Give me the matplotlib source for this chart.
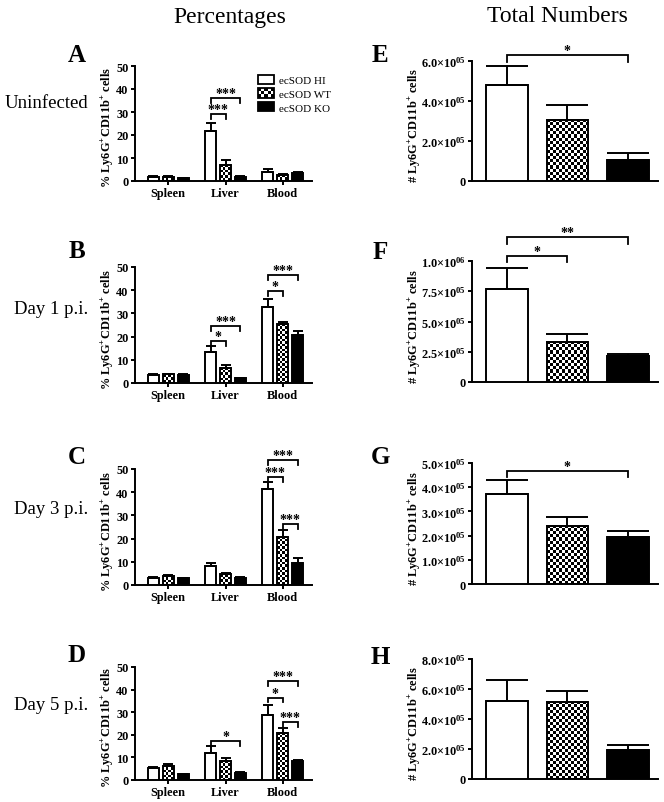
import numpy as np
import matplotlib
matplotlib.use("Agg")
import matplotlib.pyplot as plt
from matplotlib.patches import Rectangle, Patch
from matplotlib.legend_handler import HandlerBase
from matplotlib.ticker import FuncFormatter, MultipleLocator

plt.rcParams['font.family'] = ['Liberation Serif', 'DejaVu Serif']
plt.rcParams['mathtext.fontset'] = 'custom'
plt.rcParams['mathtext.rm'] = 'Liberation Serif'
plt.rcParams['mathtext.bf'] = 'Liberation Serif:bold'
plt.rcParams['mathtext.it'] = 'Liberation Serif:italic'
plt.rcParams['mathtext.default'] = 'bf'

# ---------------- data ----------------
categories = ['Spleen', 'Liver', 'Blood']
groups = ['ecSOD HI', 'ecSOD WT', 'ecSOD KO']
row_labels = ['Uninfected', 'Day 1 p.i.', 'Day 3 p.i.', 'Day 5 p.i.']

# percentages: rows = HI, WT, KO ; cols = Spleen, Liver, Blood
pct_A = [[1.9, 21.7, 3.8], [1.9, 7.0, 2.7], [1.3, 1.9, 3.4]]
pct_A_err = [[0.2, 3.7, 1.3], [0.2, 2.0, 0.3], [0.2, 0.3, 0.4]]
pct_B = [[3.5, 13.5, 32.7], [3.7, 6.6, 25.4], [3.5, 2.0, 20.5]]
pct_B_err = [[0.2, 2.4, 3.5], [0.3, 1.3, 1.1], [0.2, 0.3, 1.7]]
pct_C = [[3.0, 8.2, 41.5], [4.0, 4.7, 20.8], [2.9, 2.9, 9.3]]
pct_C_err = [[0.6, 1.3, 2.8], [0.3, 0.4, 2.9], [0.2, 0.5, 2.2]]
pct_D = [[5.1, 11.9, 28.8], [6.3, 8.4, 20.9], [2.6, 3.1, 8.2]]
pct_D_err = [[0.6, 3.1, 4.6], [0.9, 1.3, 1.9], [0.2, 0.4, 0.5]]

# total numbers: HI, WT, KO
tot_E = [4.79e5, 3.06e5, 1.03e5]
tot_E_err = [0.96e5, 0.75e5, 0.37e5]
tot_F = [7.71e5, 3.31e5, 2.12e5]
tot_F_err = [1.68e5, 0.68e5, 0.22e5]
tot_G = [3.70e5, 2.40e5, 1.96e5]
tot_G_err = [0.59e5, 0.37e5, 0.22e5]
tot_H = [5.21e5, 5.16e5, 1.91e5]
tot_H_err = [1.37e5, 0.74e5, 0.39e5]

tot_ymax = [6e5, 1e6, 5e5, 8e5]
tot_ystep = [2e5, 2.5e5, 1e5, 2e5]

# significance: (category, bar_i, bar_j, y, label)
sig_A = [(1, 0, 1, 29.3, '***'), (1, 0, 2, 36.3, '***')]
sig_B = [(1, 0, 1, 18.3, '*'), (1, 0, 2, 24.5, '***'), (2, 0, 1, 39.8, '*'), (2, 0, 2, 46.7, '***')]
sig_C = [(2, 0, 2, 53.9, '***'), (2, 0, 1, 46.7, '***'), (2, 1, 2, 26.4, '***')]
sig_D = [(1, 0, 2, 17.2, '*'), (2, 0, 2, 44.0, '***'), (2, 0, 1, 36.5, '*'), (2, 1, 2, 25.6, '***')]
sig_E = [(0, 2, 6.28e5, '*')]
sig_F = [(0, 1, 1.044e6, '*'), (0, 2, 1.196e6, '**')]
sig_G = [(0, 2, 4.68e5, '*')]
sig_H = []

# ---------------- layout ----------------
W, H = 664, 803
fig = plt.figure(figsize=(W / 100, H / 100), dpi=100)

def px_axes(x0, x1, ytop, ybot):
    return fig.add_axes([x0 / W, 1 - ybot / H, (x1 - x0) / W, (ybot - ytop) / H])

left_rows = [(67, 182), (268, 384), (470, 586), (668, 781)]
right_rows = [(62, 182), (262, 383), (464, 585), (660, 780)]

LW = 1.4

def style_axes(ax, lsize):
    for s in ['top', 'right']:
        ax.spines[s].set_visible(False)
    for s in ['left', 'bottom']:
        ax.spines[s].set_linewidth(LW)
    ax.tick_params(axis='both', direction='out', length=3, width=LW, labelsize=lsize, pad=1.5)
    for lab in ax.get_yticklabels() + ax.get_xticklabels():
        lab.set_fontweight('bold')

def checker(ax, x0, w, h, cell_px=3.0, z=2):
    p0 = ax.transData.transform((x0, 0))
    p1 = ax.transData.transform((x0 + w, h))
    nx = max(2, int(round(abs(p1[0] - p0[0]) / cell_px)))
    ny = max(1, int(round(abs(p1[1] - p0[1]) / cell_px)))
    arr = np.add.outer(np.arange(ny), np.arange(nx)) % 2
    ax.imshow(arr, cmap='gray', vmin=0, vmax=1, extent=(x0, x0 + w, 0, h),
              aspect='auto', interpolation='nearest', zorder=z)

def draw_bracket(ax, xa, xb, y, label, tick, star_size=10):
    ax.plot([xa, xa, xb, xb], [y - tick, y, y, y - tick], color='black', lw=1.3,
            clip_on=False, zorder=5, solid_joinstyle='miter')
    ax.annotate(label, xy=((xa + xb) / 2, y), xytext=(0, -1.5), textcoords='offset points',
                ha='center', va='bottom', fontsize=star_size, fontweight='bold',
                annotation_clip=False)

pct_sets = [(pct_A, pct_A_err, sig_A), (pct_B, pct_B_err, sig_B),
            (pct_C, pct_C_err, sig_C), (pct_D, pct_D_err, sig_D)]
tot_sets = [(tot_E, tot_E_err, sig_E), (tot_F, tot_F_err, sig_F),
            (tot_G, tot_G_err, sig_G), (tot_H, tot_H_err, sig_H)]

offsets = [-0.26, 0.0, 0.26]
bw = 0.19
fills = ['white', 'none', 'black']
xc = np.arange(len(categories))

left_axes = []
for r, ((ytop, ybot), (means, errs, sigs)) in enumerate(zip(left_rows, pct_sets)):
    ax = px_axes(135, 312, ytop, ybot)
    left_axes.append(ax)
    ax.set_xlim(-0.58, 2.51)
    ax.set_ylim(0, 50)
    for g in range(3):
        xs = xc + offsets[g]
        bars = ax.bar(xs, means[g], width=bw, facecolor=fills[g], edgecolor='black',
                      linewidth=LW, zorder=3, label=groups[g])
        if g == 1:
            for b in bars:
                checker(ax, b.get_x(), b.get_width(), b.get_height(), cell_px=2.5, z=2)
        ax.errorbar(xs, means[g], yerr=[np.zeros(3), errs[g]], fmt='none', ecolor='black',
                    elinewidth=LW, capsize=3.5, capthick=LW, zorder=4)
    ax.set_xlim(-0.58, 2.51)
    ax.set_ylim(0, 50)
    ax.yaxis.set_major_locator(MultipleLocator(10))
    ax.set_xticks(xc)
    ax.set_xticklabels(categories)
    style_axes(ax, 8.8)
    ax.set_ylabel('% Ly6G$^{+}$CD11b$^{+}$ cells', fontsize=8.9, fontweight='bold')
    ax.yaxis.set_label_coords(-0.107, 0.47)
    for (c, i, j, y, lab) in sigs:
        draw_bracket(ax, c + offsets[i], c + offsets[j], y, lab, tick=2.2)

def sci_fmt(v, pos):
    if abs(v) < 1e-9:
        return '0'
    if v < 0:
        return ''
    e = int(np.floor(np.log10(v) + 1e-9))
    m = v / 10 ** e
    return '%.1f\u00d710$^{%02d}$' % (m, e)

for r, ((ytop, ybot), (means, errs, sigs)) in enumerate(zip(right_rows, tot_sets)):
    ax = px_axes(472, 658, ytop, ybot)
    ax.set_xlim(-0.58, 2.5)
    ax.set_ylim(0, tot_ymax[r])
    xs = np.arange(3)
    bars = ax.bar(xs, means, width=0.69, facecolor=fills, edgecolor='black',
                  linewidth=LW, zorder=3)
    checker(ax, bars[1].get_x(), bars[1].get_width(), bars[1].get_height(), cell_px=3.0, z=2)
    ax.errorbar(xs, means, yerr=[np.zeros(3), errs], fmt='none', ecolor='black',
                elinewidth=LW, capsize=15, capthick=LW, zorder=4)
    ax.set_xlim(-0.58, 2.5)
    ax.set_ylim(0, tot_ymax[r])
    ax.yaxis.set_major_locator(MultipleLocator(tot_ystep[r]))
    ax.yaxis.set_major_formatter(FuncFormatter(sci_fmt))
    ax.set_xticks([])
    style_axes(ax, 8.8)
    ax.set_ylabel('# Ly6G$^{+}$CD11b$^{+}$ cells', fontsize=8.9, fontweight='bold')
    ax.yaxis.set_label_coords(-0.263, 0.47)
    for (i, j, y, lab) in sigs:
        draw_bracket(ax, i, j, y, lab, tick=0.055 * tot_ymax[r])

# legend with checker handle
class CheckerHandler(HandlerBase):
    def create_artists(self, legend, orig_handle, xdescent, ydescent, width, height, fontsize, trans):
        arts = []
        n_x, n_y = 5, 3
        cw, ch = width / n_x, height / n_y
        for i in range(n_x):
            for j in range(n_y):
                if (i + j) % 2 == 0:
                    arts.append(Rectangle((-xdescent + i * cw, -ydescent + j * ch), cw, ch,
                                          facecolor='black', edgecolor='none', transform=trans))
        arts.append(Rectangle((-xdescent, -ydescent), width, height, facecolor='none',
                              edgecolor='black', lw=1.3, transform=trans))
        return arts

h_hi = Patch(facecolor='white', edgecolor='black', lw=1.3)
h_wt = Patch(facecolor='white', edgecolor='black', lw=1.3, label='wt')
h_ko = Patch(facecolor='black', edgecolor='black', lw=1.3)
left_axes[0].legend([h_hi, h_wt, h_ko], groups, handler_map={h_wt: CheckerHandler()},
                    loc='upper left', bbox_to_anchor=(252 / W, 1 - 70 / H),
                    bbox_transform=fig.transFigure, frameon=False, fontsize=8,
                    handlelength=1.5, handleheight=0.9, labelspacing=0.3,
                    borderpad=0, handletextpad=0.4)

# titles, panel letters, row labels
fig.text(230 / W, 1 - 17 / H, 'Percentages', ha='center', va='center', fontsize=17)
fig.text(557 / W, 1 - 17 / H, 'Total Numbers', ha='center', va='center', fontsize=17)

left_letters = [('A', 55), ('B', 252), ('C', 457), ('D', 655)]
right_letters = [('E', 55), ('F', 253), ('G', 458), ('H', 657)]
for (t, y) in left_letters:
    fig.text(77 / W, 1 - y / H, t, ha='center', va='center', fontsize=18, fontweight='bold')
for (t, y) in right_letters:
    fig.text(380 / W, 1 - y / H, t, ha='center', va='center', fontsize=18, fontweight='bold')

row_y = [104, 310, 510, 706]
for t, y in zip(row_labels, row_y):
    fig.text(88 / W, 1 - y / H, t, ha='right', va='center', fontsize=13.5)

fig.savefig('out.png', dpi=100)
